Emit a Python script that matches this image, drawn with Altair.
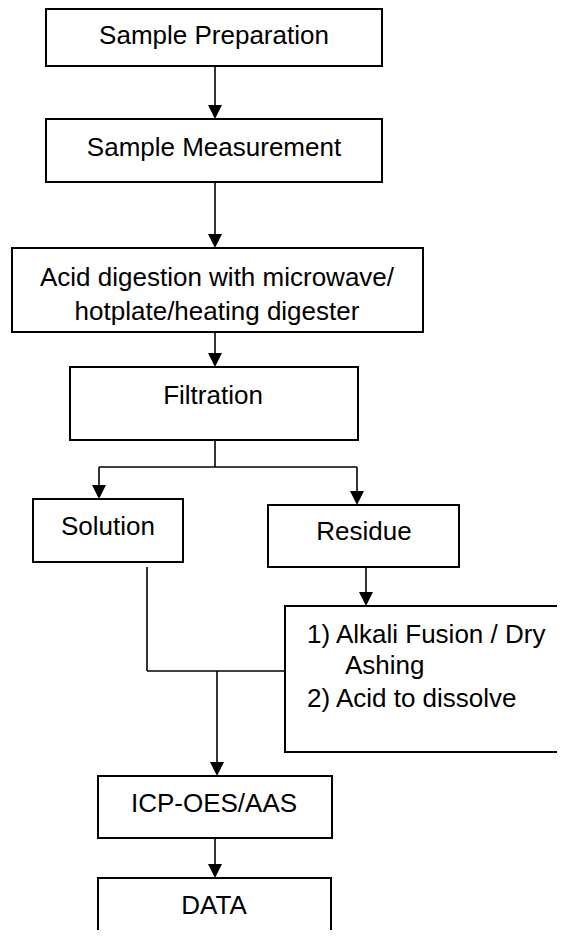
import altair as alt
import pandas as pd

# ---- page-pixel coordinates (x right, y down) ----
box_x1 = [46, 46, 12, 70, 33, 268, 285, 98, 98]
box_x2 = [382, 382, 423, 358, 183, 459, 575, 332, 331]
box_y1 = [9, 119, 248, 367, 499, 505, 606, 776, 878]
box_y2 = [66, 182, 332, 440, 562, 567, 752, 838, 960]

c_labels = ["Sample Preparation", "Sample Measurement",
            "Acid digestion with microwave/", "hotplate/heating digester",
            "Filtration", "Solution", "Residue", "ICP-OES/AAS", "DATA"]
c_x = [214, 214, 217, 217, 213, 108, 364, 214, 214]
c_y = [44, 156, 286, 320, 404, 535, 540, 812, 914]

l_labels = ["1) Alkali Fusion / Dry", "Ashing", "2) Acid to dissolve"]
l_x = [307, 345, 307]
l_y = [643, 674, 707]

seg_x1 = [215, 215, 215, 215, 99, 99, 357, 147, 147, 217, 366, 215]
seg_y1 = [66, 182, 332, 440, 467, 467, 467, 567, 671, 671, 567, 838]
seg_x2 = [215, 215, 215, 215, 357, 99, 357, 147, 285, 217, 366, 215]
seg_y2 = [106, 235, 354, 467, 467, 486, 492, 671, 671, 763, 593, 865]

tip_x = [215, 215, 215, 99, 357, 217, 366, 215]
tip_y = [119, 248, 367, 499, 505, 776, 606, 878]

W, H = 549, 922
X0, Y0 = 8, 8

xs = alt.Scale(domain=[X0, X0 + W], nice=False, zero=False)
ys = alt.Scale(domain=[Y0, Y0 + H], nice=False, zero=False, reverse=True)

boxes = pd.DataFrame({"x1": box_x1, "x2": box_x2, "y1": box_y1, "y2": box_y2})
segs = pd.DataFrame({"x1": seg_x1, "y1": seg_y1, "x2": seg_x2, "y2": seg_y2})
tips = pd.DataFrame({"x": tip_x, "y": [t - 7 for t in tip_y]})
ctext = pd.DataFrame({"label": c_labels, "x": c_x, "y": c_y})
ltext = pd.DataFrame({"label": l_labels, "x": l_x, "y": l_y})

rule_layer = alt.Chart(segs).mark_rule(color="#000000", strokeWidth=1.6, clip=True).encode(
    x=alt.X("x1:Q", scale=xs, axis=None),
    y=alt.Y("y1:Q", scale=ys, axis=None),
    x2="x2:Q",
    y2="y2:Q",
)

box_layer = alt.Chart(boxes).mark_rect(fill="white", stroke="#000000", strokeWidth=2, clip=True).encode(
    x=alt.X("x1:Q", scale=xs, axis=None),
    x2="x2:Q",
    y=alt.Y("y1:Q", scale=ys, axis=None),
    y2="y2:Q",
)

tip_layer = alt.Chart(tips).mark_point(
    shape="M-1,-1L1,-1L0,1Z", size=196, filled=True, fill="#000000",
    strokeWidth=0, opacity=1, clip=True
).encode(
    x=alt.X("x:Q", scale=xs, axis=None),
    y=alt.Y("y:Q", scale=ys, axis=None),
)

ctext_layer = alt.Chart(ctext).mark_text(
    font="Liberation Sans", fontSize=26, align="center", baseline="alphabetic", color="#000000"
).encode(
    x=alt.X("x:Q", scale=xs, axis=None),
    y=alt.Y("y:Q", scale=ys, axis=None),
    text="label:N",
)

ltext_layer = alt.Chart(ltext).mark_text(
    font="Liberation Sans", fontSize=26, align="left", baseline="alphabetic", color="#000000"
).encode(
    x=alt.X("x:Q", scale=xs, axis=None),
    y=alt.Y("y:Q", scale=ys, axis=None),
    text="label:N",
)

chart = alt.layer(rule_layer, box_layer, tip_layer, ctext_layer, ltext_layer).properties(
    width=W, height=H, padding=0, autosize=alt.AutoSizeParams(type="none"),
    background="white"
).configure_view(stroke=None)

chart.save("out.html", embed_options={"renderer": "svg", "actions": False})
